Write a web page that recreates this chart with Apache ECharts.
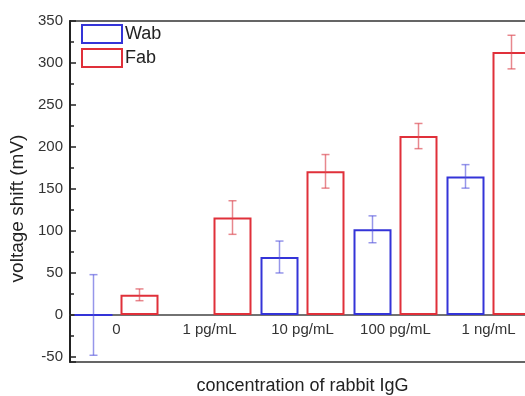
<!DOCTYPE html>
<html>
<head>
<meta charset="utf-8">
<script src="https://cdn.jsdelivr.net/npm/echarts@6/dist/echarts.min.js"></script>
<style>
html,body{margin:0;padding:0;background:#fff;}
#chart{width:525px;height:396px;}
</style>
</head>
<body>
<div id="chart"></div>
<script>
var categories = ['0', '1 pg/mL', '10 pg/mL', '100 pg/mL', '1 ng/mL'];
var wabValues = [0, null, 69, 102, 165];
var wabErrors = [48, null, 19, 16, 14];
var fabValues = [24, 116, 171, 213, 313];
var fabErrors = [7, 20, 20, 15, 20];
var yTickMin = -56;
var yTickMax = 350;

var RED = '#e0303a';
var BLUE = '#3434d8';
var BAR_W = 38;
var GAP = 8;
var GRID_H = 341;
var zeroOffset = -(0 - yTickMin) / (yTickMax - yTickMin) * GRID_H;

function errData(vals, errs) {
  var out = [];
  for (var i = 0; i < vals.length; i++) {
    if (vals[i] !== null && errs[i] !== null) out.push([i, vals[i], errs[i]]);
  }
  return out;
}

function errRender(sign, color) {
  return function (params, api) {
    var i = api.value(0), v = api.value(1), e = api.value(2);
    var off = sign * (BAR_W + GAP) / 2;
    var hi = api.coord([i, v + e]);
    var lo = api.coord([i, v - e]);
    var x = hi[0] + off;
    var cap = 4;
    var st = { stroke: color, lineWidth: 1.5 };
    return {
      type: 'group',
      children: [
        { type: 'line', shape: { x1: x, y1: hi[1], x2: x, y2: lo[1] }, style: st },
        { type: 'line', shape: { x1: x - cap, y1: hi[1], x2: x + cap, y2: hi[1] }, style: st },
        { type: 'line', shape: { x1: x - cap, y1: lo[1], x2: x + cap, y2: lo[1] }, style: st }
      ]
    };
  };
}

var chart = echarts.init(document.getElementById('chart'), null, { renderer: 'canvas' });
var font = 'Liberation Sans, Arial, sans-serif';
chart.setOption({
  animation: false,
  textStyle: { fontFamily: font },
  grid: {
    left: 70, top: 21, width: 465, height: GRID_H,
    containLabel: false, outerBoundsMode: 'none',
    show: true, borderColor: '#333', borderWidth: 1.5, backgroundColor: 'transparent'
  },
  legend: {
    orient: 'vertical', left: 76, top: 19,
    itemWidth: 40, itemHeight: 18, itemGap: 4,
    icon: 'rect',
    textStyle: { fontSize: 18, color: '#222', fontFamily: font, padding: [0, 0, 0, -2] },
    data: ['Wab', 'Fab']
  },
  xAxis: {
    type: 'category',
    data: categories,
    offset: zeroOffset,
    name: 'concentration of rabbit IgG',
    nameLocation: 'middle',
    nameGap: 62,
    nameMoveOverlap: false,
    nameTextStyle: { fontSize: 18, color: '#222', fontFamily: font },
    axisLine: { onZero: false, lineStyle: { color: '#444', width: 1.5 } },
    axisTick: { show: false },
    axisLabel: { fontSize: 15, color: '#333', margin: 7, fontFamily: font }
  },
  yAxis: {
    type: 'value',
    min: yTickMin, max: yTickMax,
    splitNumber: 8,
    name: 'voltage shift (mV)',
    nameLocation: 'middle',
    nameGap: 42,
    nameTextStyle: { fontSize: 19, color: '#222', fontFamily: font, padding: [0, 34, 0, 0] },
    axisLine: { show: true, lineStyle: { color: '#222', width: 2 } },
    axisTick: { show: true, inside: true, length: 6, lineStyle: { color: '#222', width: 1.5 } },
    minorTick: { show: true, splitNumber: 2, length: 4, lineStyle: { color: '#222', width: 1.5 } },
    splitLine: { show: false },
    axisLabel: { fontSize: 15, color: '#333', margin: 7, showMinLabel: false, fontFamily: font }
  },
  series: [
    {
      name: 'Wab', type: 'bar', data: wabValues,
      barWidth: BAR_W, barGap: (GAP / BAR_W * 100) + '%',
      itemStyle: { color: '#fff', borderColor: BLUE, borderWidth: 2 }
    },
    {
      name: 'Fab', type: 'bar', data: fabValues,
      barWidth: BAR_W,
      itemStyle: { color: '#fff', borderColor: RED, borderWidth: 2 }
    },
    {
      name: 'WabErr', type: 'custom', data: errData(wabValues, wabErrors),
      renderItem: errRender(-1, 'rgba(80,80,220,0.6)'), z: 10,
      encode: { x: 0, y: 1 }
    },
    {
      name: 'FabErr', type: 'custom', data: errData(fabValues, fabErrors),
      renderItem: errRender(1, 'rgba(220,70,80,0.65)'), z: 10,
      encode: { x: 0, y: 1 }
    }
  ]
});
</script>
</body>
</html>
